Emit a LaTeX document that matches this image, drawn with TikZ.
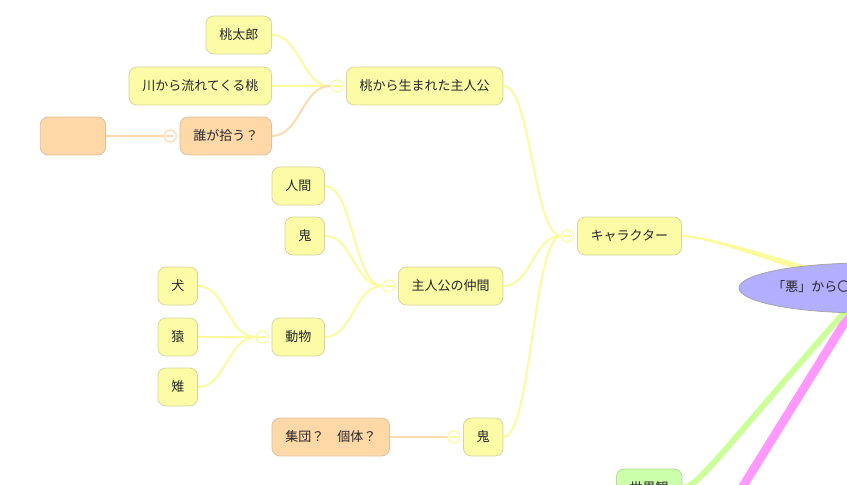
\documentclass[tikz,border=0pt]{standalone}
\usepackage{fontspec}
\setmainfont{Noto Sans CJK JP}
\usepackage{xcolor}
\usepackage{tikz}
\usetikzlibrary{positioning}
\usetikzlibrary{shapes.geometric, backgrounds}

\definecolor{nodeY}{HTML}{FCFCA6}
\definecolor{edgeY}{HTML}{D6D6A0}
\definecolor{linkY}{HTML}{FCFA9E}
\definecolor{nodeO}{HTML}{FFD8A8}
\definecolor{edgeO}{HTML}{DCC2A2}
\definecolor{linkO}{HTML}{FFDAB2}
\definecolor{nodeG}{HTML}{CCFFAA}
\definecolor{edgeG}{HTML}{B8D8A0}
\definecolor{linkG}{HTML}{CCFF99}
\definecolor{linkP}{HTML}{FF99FF}
\definecolor{rootC}{HTML}{B3AEFF}

\begin{document}
\begin{tikzpicture}[x=0.75pt, y=-0.75pt]
\tikzstyle{box} = [draw, rounded corners=6pt, minimum height=28.5pt, inner xsep=10pt, line width=0.6pt, text=black!85, font=\fontsize{9.75}{12}\selectfont]
\tikzstyle{ybox} = [box, fill=nodeY, draw=edgeY]
\tikzstyle{obox} = [box, fill=nodeO, draw=edgeO]
\tikzstyle{gbox} = [box, fill=nodeG, draw=edgeG]
\tikzstyle{junc} = [draw=#1, circle, fill=white, minimum size=9pt, inner sep=0pt, line width=0.9pt, path picture={\draw[#1, line width=0.9pt] ([xshift=-3pt]path picture bounding box.center) -- ([xshift=3pt]path picture bounding box.center);}]
\tikzstyle{rootell} = [ellipse, draw=black!35, fill=rootC, minimum width=190.5pt, minimum height=37.5pt, line width=0.6pt]
\tikzstyle{curvy} = [to path={.. controls +(28,0) and +(-28,0) .. (\tikztotarget) \tikztonodes}]
\tikzstyle{yline} = [draw=linkY, line width=1.5pt, curvy]
\tikzstyle{oline} = [draw=linkO, line width=1.5pt, curvy]

\useasboundingbox (0,0) rectangle (847,485);
\clip (0,0) rectangle (847,485);

\node [ybox, anchor=west] (momo) at (346,86) {桃から生まれた主人公};
\node [junc=linkY, left=2pt of momo] (jmomo) {};
\node [ybox, anchor=east] (taro) at (272,35) {桃太郎};
\node [ybox, anchor=east] (kawa) at (272,86) {川から流れてくる桃};
\node [obox, anchor=east] (dare) at (272,136) {誰が拾う？};
\node [junc=linkO, left=2pt of dare] (jdare) {};
\node [obox, anchor=east, minimum width=49pt] (blank) at (106,136) {};

\node [ybox, anchor=west] (key) at (577,236) {キャラクター};
\node [junc=linkY, left=2pt of key] (jkey) {};

\node [ybox, anchor=west] (nakama) at (398,286) {主人公の仲間};
\node [junc=linkY, left=2pt of nakama] (jnakama) {};
\node [ybox, anchor=east] (ningen) at (325,186) {人間};
\node [ybox, anchor=east] (oniA) at (325,236) {鬼};
\node [ybox, anchor=east] (doubutsu) at (325,337) {動物};
\node [junc=linkY, left=2pt of doubutsu] (jdoubutsu) {};
\node [ybox, anchor=east] (inu) at (198,286) {犬};
\node [ybox, anchor=east] (saru) at (198,337) {猿};
\node [ybox, anchor=east] (kiji) at (198,387) {雉};

\node [ybox, anchor=west] (oniB) at (463,437) {鬼};
\node [junc=linkY, left=2pt of oniB] (joniB) {};
\node [obox, anchor=east] (shudan) at (390,437) {集団？　個体？};

\node [gbox, anchor=west] (sekai) at (616,488) {世界観};
\node [rootell] (root) at (866,288) {};
\node [anchor=west, inner sep=0pt, text=black!85, font=\fontsize{9.75}{12}\selectfont] (roottxt) at (772,287) {「悪」から〇};
\coordinate (pinkend) at (722,520);

\begin{scope}[on background layer]
\clip (0,0) rectangle (847,485);
\path [draw=linkP, line width=6.5pt] (root.center) -- (pinkend);
\path [draw=linkG, line width=4.5pt] (root.center) .. controls (722,450) and (698,488) .. (sekai.east);
\fill [linkY] ([yshift=0.8pt]key.east) .. controls +(30,0) and +(-50,-14) .. ([yshift=3.2pt]root.center) -- ([yshift=-3.2pt]root.center) .. controls +(-50,-14) and +(30,0) .. ([yshift=-0.8pt]key.east) -- cycle;

\path [yline] (taro.east) to (jmomo.west);
\path [yline] (kawa.east) to (jmomo.west);
\path [oline] (dare.east) to (jmomo.west);
\path [oline] (blank.east) to (jdare.west);
\path [yline] (momo.east) to (jkey.west);
\path [yline] (nakama.east) to (jkey.west);
\path [yline] (oniB.east) to (jkey.west);
\path [yline] (ningen.east) to (jnakama.west);
\path [yline] (oniA.east) to (jnakama.west);
\path [yline] (doubutsu.east) to (jnakama.west);
\path [yline] (inu.east) to (jdoubutsu.west);
\path [yline] (saru.east) to (jdoubutsu.west);
\path [yline] (kiji.east) to (jdoubutsu.west);
\path [oline] (shudan.east) to (joniB.west);
\end{scope}
\end{tikzpicture}
\end{document}
